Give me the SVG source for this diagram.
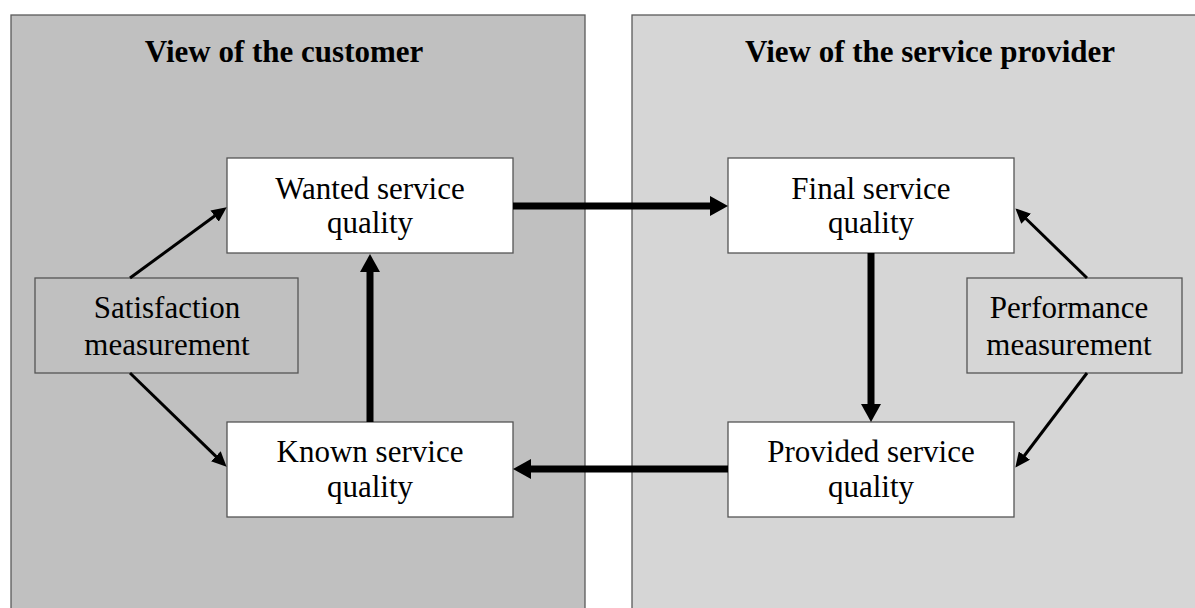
<svg xmlns="http://www.w3.org/2000/svg" width="1195" height="608" viewBox="0 0 1195 608">
<style>
text{font-family:"Liberation Serif","Times New Roman",serif;font-size:31px;fill:#000;text-anchor:middle}
.title{font-weight:bold}
.panel{stroke:#5a5a5a;stroke-width:1.3}
.box{stroke:#555;stroke-width:1.3}
.thick{stroke:#000;stroke-width:7;fill:none}
.thin{stroke:#000;stroke-width:3;fill:none}
</style>
<defs>
<marker id="hThick" viewBox="0 0 18 20" refX="0.5" refY="10" markerWidth="18" markerHeight="20" markerUnits="userSpaceOnUse" orient="auto"><path d="M0,0 L18,10 L0,20 z" fill="#000"/></marker>
<marker id="hThin" viewBox="0 0 15 14" refX="0.5" refY="7" markerWidth="15" markerHeight="14" markerUnits="userSpaceOnUse" orient="auto"><path d="M0,0 L15,7 L0,14 z" fill="#000"/></marker>
</defs>
<rect width="1195" height="608" fill="#fff"/>
<g id="panel-customer">
<rect class="panel" x="11" y="15" width="574" height="600" fill="#c0c0c0"/>
<text class="title" x="284" y="62">View of the customer</text>
</g>
<g id="panel-provider">
<rect class="panel" x="632" y="15" width="570" height="600" fill="#d6d6d6"/>
<text class="title" x="930" y="62">View of the service provider</text>
</g>
<g id="wanted">
<rect class="box" x="227" y="158" width="286" height="95" fill="#fff"/>
<text x="370" y="199">Wanted service</text>
<text x="370" y="233">quality</text>
</g>
<g id="final">
<rect class="box" x="728" y="158" width="286" height="95" fill="#fff"/>
<text x="871" y="199">Final service</text>
<text x="871" y="233">quality</text>
</g>
<g id="known">
<rect class="box" x="227" y="422" width="286" height="95" fill="#fff"/>
<text x="370" y="462">Known service</text>
<text x="370" y="497">quality</text>
</g>
<g id="provided">
<rect class="box" x="728" y="422" width="286" height="95" fill="#fff"/>
<text x="871" y="462">Provided service</text>
<text x="871" y="497">quality</text>
</g>
<g id="satisfaction">
<rect class="box" x="35" y="278" width="263" height="95" fill="#c0c0c0"/>
<text x="167" y="318">Satisfaction</text>
<text x="167" y="355">measurement</text>
</g>
<g id="performance">
<rect class="box" x="967" y="278" width="215" height="95" fill="#d6d6d6"/>
<text x="1069" y="318">Performance</text>
<text x="1069" y="355">measurement</text>
</g>
<g id="connectors">
<line class="thick" x1="513" y1="206" x2="710.5" y2="206" marker-end="url(#hThick)"/>
<line class="thick" x1="728" y1="469" x2="530.5" y2="469" marker-end="url(#hThick)"/>
<line class="thick" x1="370" y1="422" x2="370" y2="271.5" marker-end="url(#hThick)"/>
<line class="thick" x1="871" y1="253" x2="871" y2="404.5" marker-end="url(#hThick)"/>
<line class="thin" x1="130" y1="278" x2="215" y2="215.8" marker-end="url(#hThin)"/>
<line class="thin" x1="130" y1="373" x2="216.2" y2="456.6" marker-end="url(#hThin)"/>
<line class="thin" x1="1087" y1="278" x2="1025.8" y2="218.5" marker-end="url(#hThin)"/>
<line class="thin" x1="1087" y1="373" x2="1024.1" y2="456" marker-end="url(#hThin)"/>
</g>
</svg>
